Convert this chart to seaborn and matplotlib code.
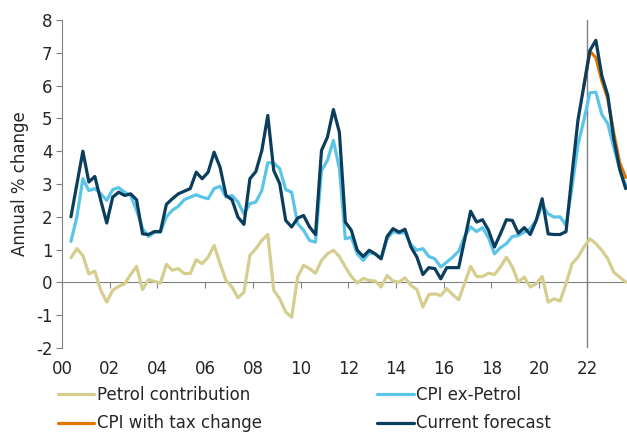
import numpy as np
import pandas as pd
import seaborn as sns
from matplotlib import pyplot as plt

# quarterly data, 2000Q2 .. 2023Q3
start_year, start_q, n_q = 2000, 2, 94

petrol = [0.75, 1.03, 0.82, 0.26, 0.34, -0.24, -0.6, -0.24, -0.12, -0.04, 0.24, 0.49,
          -0.22, 0.08, 0.03, -0.02, 0.55, 0.37, 0.42, 0.27, 0.27, 0.69, 0.57, 0.77,
          1.13, 0.57, 0.06, -0.14, -0.47, -0.3, 0.82, 1.03, 1.28, 1.46, -0.24, -0.5,
          -0.9, -1.06, 0.16, 0.52, 0.42, 0.28, 0.67, 0.87, 0.98, 0.79, 0.47, 0.18,
          -0.02, 0.12, 0.06, 0.04, -0.14, 0.21, 0.04, 0.01, 0.14, -0.09, -0.22, -0.75,
          -0.37, -0.35, -0.4, -0.19, -0.37, -0.53, -0.02, 0.49, 0.18, 0.18, 0.28, 0.24,
          0.47, 0.77, 0.47, 0.01, 0.16, -0.14, -0.04, 0.18, -0.6, -0.5, -0.57, -0.04,
          0.57, 0.77, 1.08, 1.33, 1.18, 0.98, 0.72, 0.31, 0.16, 0.01]

cpi_ex_petrol = [1.25, 2.0, 3.16, 2.8, 2.86, 2.7, 2.5, 2.83, 2.89, 2.75, 2.65, 2.2,
                 1.64, 1.4, 1.53, 1.53, 2.0, 2.2, 2.32, 2.52, 2.6, 2.67, 2.6, 2.55,
                 2.86, 2.93, 2.6, 2.65, 2.45, 2.09, 2.4, 2.45, 2.8, 3.65, 3.64, 3.47,
                 2.83, 2.75, 1.79, 1.59, 1.28, 1.23, 3.41, 3.72, 4.33, 3.47, 1.33, 1.38,
                 0.87, 0.67, 0.9, 0.87, 0.72, 1.33, 1.55, 1.5, 1.52, 1.15, 0.98, 1.03,
                 0.79, 0.72, 0.47, 0.62, 0.77, 0.95, 1.4, 1.69, 1.55, 1.67, 1.36, 0.87,
                 1.06, 1.18, 1.4, 1.43, 1.53, 1.64, 1.89, 2.35, 2.09, 1.99, 2.0, 1.74,
                 2.9, 4.2, 4.95, 5.78, 5.8, 5.12, 4.84, 4.12, 3.45, 2.95]

tax_change = [np.nan] * 86 + [6.0, 7.05, 6.85, 6.15, 5.6, 4.55, 3.65, 3.2]

current = [2.0, 3.0, 4.0, 3.06, 3.23, 2.5, 1.81, 2.6, 2.75, 2.65, 2.7, 2.52,
           1.48, 1.46, 1.55, 1.55, 2.38, 2.55, 2.7, 2.78, 2.86, 3.36, 3.16, 3.36,
           3.97, 3.51, 2.65, 2.52, 1.99, 1.77, 3.16, 3.38, 4.02, 5.09, 3.41, 3.01,
           1.89, 1.69, 1.96, 2.04, 1.69, 1.46, 4.02, 4.43, 5.27, 4.58, 1.84, 1.59,
           0.98, 0.79, 0.98, 0.87, 0.72, 1.4, 1.64, 1.53, 1.62, 1.08, 0.77, 0.24,
           0.45, 0.42, 0.11, 0.45, 0.45, 0.45, 1.3, 2.17, 1.84, 1.91, 1.59, 1.08,
           1.48, 1.91, 1.89, 1.5, 1.67, 1.46, 1.89, 2.55, 1.48, 1.46, 1.46, 1.55,
           3.3, 4.95, 6.0, 7.07, 7.38, 6.3, 5.7, 4.38, 3.45, 2.86]

series_names = ['Petrol contribution', 'CPI ex-Petrol', 'CPI with tax change', 'Current forecast']
colors = ['#D5CE8E', '#5BC5E8', '#E07800', '#0B3D5C']
xtick_years = list(range(2000, 2023, 2))
xtick_labels = ['%02d' % (y % 100) for y in xtick_years]

# mid-quarter positions
qidx = np.arange(n_q) + (start_q - 1)
x = start_year + qidx / 4 + 0.125

frames = []
for name, vals in zip(series_names, [petrol, cpi_ex_petrol, tax_change, current]):
    frames.append(pd.DataFrame({'date': x, 'value': vals, 'series': name}))
df = pd.concat(frames).dropna()

sns.set_style('white')
plt.rcParams['font.family'] = ['DejaVu Sans']
plt.rcParams['axes.unicode_minus'] = False

fig = plt.figure(figsize=(6.27, 4.34), dpi=100)
ax = fig.add_axes([62 / 627, 86 / 434, 565 / 627, 328 / 434])

grey = '#808080'
fs = 12
ax.axvline(2022, color=grey, lw=1, zorder=1)

sns.lineplot(data=df, x='date', y='value', hue='series', hue_order=series_names,
             palette=dict(zip(series_names, colors)), estimator=None, lw=2.3,
             ax=ax, zorder=3)

ax.set_xlim(2000, 2023.68)
ax.set_ylim(-2, 8)
ax.set_yticks(range(-2, 9))
ax.set_ylabel('Annual % change', fontsize=fs, labelpad=5)
ax.set_xlabel('')

for s in ['top', 'right']:
    ax.spines[s].set_visible(False)
ax.spines['left'].set_color(grey)
ax.spines['bottom'].set_color(grey)
ax.spines['bottom'].set_position(('data', 0))
ax.tick_params(axis='y', direction='out', length=4, color=grey, labelsize=fs, pad=3, left=True)
ax.set_xticks(xtick_years)
ax.tick_params(axis='x', direction='out', length=4, color=grey, labelbottom=False, bottom=True)

sec = ax.secondary_xaxis(0)
sec.set_xticks(xtick_years, xtick_labels)
sec.tick_params(length=0, labelsize=fs, pad=9)
sec.spines['bottom'].set_visible(False)

handles, labels = ax.get_legend_handles_labels()
ax.get_legend().remove()
# row-wise order: petrol / ex-petrol on the first row
order = [0, 2, 1, 3]
fig.legend([handles[i] for i in order], [labels[i] for i in order], ncol=2,
           loc='upper left', bbox_to_anchor=(51 / 627, 1 - 379 / 434),
           frameon=False, fontsize=fs, handlelength=2.2, handletextpad=0.15,
           columnspacing=6.9, labelspacing=0.65, borderaxespad=0)

fig.savefig('out.png', dpi=100)
